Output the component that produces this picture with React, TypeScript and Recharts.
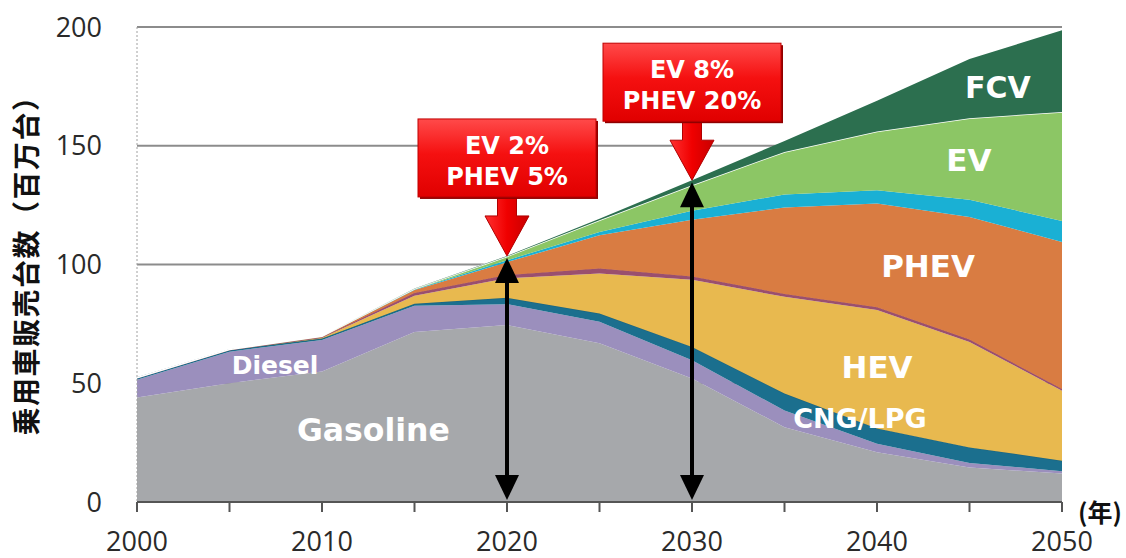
import React from 'react';
import { AreaChart, Area, XAxis, YAxis, CartesianGrid, ReferenceDot, ReferenceLine } from 'recharts';

const years = [2000, 2005, 2010, 2015, 2020, 2025, 2030, 2035, 2040, 2045, 2050];
const gasoline = [44, 50, 55, 71.6, 74.5, 66.8, 52, 31.5, 21, 14.5, 12];
const diesel = [7.5, 13.3, 13.2, 11, 8.8, 9.1, 7.7, 7, 3.5, 1.9, 1];
const cngLpg = [0.7, 0.7, 0.6, 0.9, 2.7, 3.5, 5.6, 7.2, 6.5, 6.6, 4.4];
const hev = [0, 0, 0.4, 3.3, 8.2, 16.8, 28.3, 40.7, 49.8, 44.4, 29.4];
const hevDiesel = [0, 0, 0.2, 1.2, 1.4, 2.1, 1.4, 1.2, 1.2, 1, 0.8];
const phev = [0, 0, 0.2, 1.3, 5.4, 14, 23.8, 36.4, 43.7, 51.6, 61.9];
const phevDiesel = [0, 0, 0, 0.2, 0.8, 1.4, 3.8, 5.5, 5.6, 7.3, 8.8];
const ev = [0.1, 0.2, 0.2, 0.3, 1.6, 4.9, 10.8, 17.9, 24.7, 34.3, 45.9];
const fcv = [0, 0, 0, 0.1, 0.2, 0.7, 2.1, 4.6, 13, 24.9, 34.4];

const xTicks = [2000, 2005, 2010, 2015, 2020, 2025, 2030, 2035, 2040, 2045, 2050];
const xTickLabels = ['2000', '', '2010', '', '2020', '', '2030', '', '2040', '', '2050'];
const yTicks = [0, 50, 100, 150, 200];

const callouts = [
  { year: 2020, lines: ['EV 2%', 'PHEV 5%'] },
  { year: 2030, lines: ['EV 8%', 'PHEV 20%'] },
];

const data = years.map((year, i) => ({
  year,
  gasoline: gasoline[i],
  diesel: diesel[i],
  cngLpg: cngLpg[i],
  hev: hev[i],
  hevDiesel: hevDiesel[i],
  phev: phev[i],
  phevDiesel: phevDiesel[i],
  ev: ev[i],
  fcv: fcv[i],
}));

const totalAt = (year: number) => {
  const d: any = data.find((r) => r.year === year);
  return d.gasoline + d.diesel + d.cngLpg + d.hev + d.hevDiesel + d.phev + d.phevDiesel + d.ev + d.fcv;
};

// label placements (layout, in chart coordinates)
const areaLabels = [
  { text: 'Diesel', x: 2007.46, y: 57.6, size: 25 },
  { text: 'Gasoline', x: 2012.78, y: 30.3, size: 31.5 },
  { text: 'CNG/LPG', x: 2039.08, y: 35.3, size: 27 },
  { text: 'HEV', x: 2040, y: 56.8, size: 31 },
  { text: 'PHEV', x: 2042.76, y: 99.3, size: 31 },
  { text: 'EV', x: 2044.97, y: 143.9, size: 31 },
  { text: 'FCV', x: 2046.54, y: 174.6, size: 30 },
];

const LATIN = '"Open Sans", "DejaVu Sans", sans-serif';
const WIDE = '"DejaVu Sans", "Open Sans", sans-serif';
const CJK = '"Noto Sans CJK JP", "Noto Sans", sans-serif';

const Callout = (props: any) => {
  const { cx, cy, lines, idx } = props;
  const bw = 178;
  const bh = 78;
  const left = cx - 89;
  const top = cy - 137;
  const shaftW = 19;
  const headW = 44;
  const headH = 40;
  const boxBottom = top + bh;
  const path = `M${cx - shaftW / 2},${boxBottom - 2} L${cx + shaftW / 2},${boxBottom - 2} L${cx + shaftW / 2},${cy - headH} L${cx + headW / 2},${cy - headH} L${cx},${cy} L${cx - headW / 2},${cy - headH} L${cx - shaftW / 2},${cy - headH} Z`;
  const gid = `redBox${idx}`;
  const gid2 = `redArrow${idx}`;
  return (
    <g>
      <defs>
        <linearGradient id={gid} x1="0" y1="0" x2="0" y2="1">
          <stop offset="0%" stopColor="#ff4a4a" />
          <stop offset="45%" stopColor="#f51010" />
          <stop offset="100%" stopColor="#e00000" />
        </linearGradient>
        <linearGradient id={gid2} x1="0" y1="0" x2="1" y2="0">
          <stop offset="0%" stopColor="#ff3030" />
          <stop offset="50%" stopColor="#f00000" />
          <stop offset="100%" stopColor="#c80000" />
        </linearGradient>
      </defs>
      <path d={path} fill={`url(#${gid2})`} stroke="#b00000" strokeWidth={1} />
      <rect x={left + 2} y={top + 2} width={bw} height={bh} fill="#900000" />
      <rect x={left} y={top} width={bw} height={bh} fill={`url(#${gid})`} stroke="#c00000" strokeWidth={1} />
      <text
        x={cx}
        y={top + 35}
        textAnchor="middle"
        fill="#ffffff"
        fontFamily={WIDE}
        fontWeight={700}
        fontSize={24}
      >
        <tspan x={cx} y={top + 35}>{lines[0]}</tspan>
        <tspan x={cx} y={top + 66}>{lines[1]}</tspan>
      </text>
    </g>
  );
};

const DoubleArrow = (props: any) => {
  const { x1, y1, x2, y2 } = props;
  const x = x1;
  const yTop = Math.min(y1, y2) + 2;
  const yBot = Math.max(y1, y2) - 2;
  const hw = 12;
  const hh = 25;
  return (
    <g>
      <line x1={x} y1={yTop + hh - 2} x2={x} y2={yBot - hh + 2} stroke="#000" strokeWidth={4} />
      <path d={`M${x},${yTop} L${x + hw},${yTop + hh} L${x - hw},${yTop + hh} Z`} fill="#000" />
      <path d={`M${x},${yBot} L${x + hw},${yBot - hh} L${x - hw},${yBot - hh} Z`} fill="#000" />
    </g>
  );
};

const AreaText = (props: any) => {
  const { cx, cy, text, size } = props;
  return (
    <text
      x={cx}
      y={cy}
      textAnchor="middle"
      dominantBaseline="central"
      fill="#ffffff"
      fontFamily={WIDE}
      fontWeight={700}
      fontSize={size}
    >
      {text}
    </text>
  );
};

export default function App() {
  return (
    <div style={{ position: 'absolute', left: 0, top: 0, width: 1126, height: 558, background: '#ffffff' }}>
      <AreaChart
        width={1126}
        height={558}
        data={data}
        margin={{ top: 27, right: 64, bottom: 16, left: 37 }}
      >
        <CartesianGrid vertical={false} stroke="#8c8c8c" strokeWidth={2} />
        <XAxis
          dataKey="year"
          type="number"
          domain={[2000, 2050]}
          ticks={xTicks}
          interval={0}
          height={40}
          tickSize={10}
          tickMargin={20}
          tickFormatter={(v: number) => xTickLabels[xTicks.indexOf(v)] ?? ''}
          axisLine={{ stroke: '#555555', strokeWidth: 2 }}
          tickLine={{ stroke: '#555555', strokeWidth: 2 }}
          tick={{ fontSize: 27, fill: '#2a2a2a', fontFamily: LATIN }}
          label={{
            content: (p: any) => (
              <text
                x={p.viewBox.x + p.viewBox.width + 38}
                y={p.viewBox.y + 9}
                textAnchor="middle"
                dominantBaseline="central"
                fontFamily={CJK}
                fontWeight={700}
                fontSize={25}
                fill="#111"
              >
                (年)
              </text>
            ),
          }}
        />
        <YAxis
          type="number"
          domain={[0, 200]}
          ticks={yTicks}
          interval={0}
          width={100}
          tickLine={false}
          tickSize={6}
          tickMargin={29}
          axisLine={{ stroke: '#a0a0a0', strokeWidth: 1, strokeDasharray: '2 2' }}
          tick={{ fontSize: 27, fill: '#2a2a2a', fontFamily: LATIN }}
          label={{
            content: (p: any) => {
              const cx = p.viewBox.x - 12;
              const cy = p.viewBox.y + p.viewBox.height / 2 - 6;
              return (
                <text
                  x={cx}
                  y={cy}
                  transform={`rotate(-90, ${cx}, ${cy})`}
                  textAnchor="middle"
                  dominantBaseline="central"
                  fontFamily={CJK}
                  fontWeight={700}
                  fontSize={28}
                  letterSpacing={1.5}
                  fill="#111"
                >
                  乗用車販売台数（百万台）
                </text>
              );
            },
          }}
        />
        <Area type="linear" dataKey="gasoline" stackId="1" stroke="none" fill="#a6a8ab" fillOpacity={1} isAnimationActive={false} />
        <Area type="linear" dataKey="diesel" stackId="1" stroke="none" fill="#9b8fbd" fillOpacity={1} isAnimationActive={false} />
        <Area type="linear" dataKey="cngLpg" stackId="1" stroke="#1d6680" strokeWidth={1.5} fill="#1b6f8e" fillOpacity={1} isAnimationActive={false} />
        <Area type="linear" dataKey="hev" stackId="1" stroke="none" fill="#e8b94f" fillOpacity={1} isAnimationActive={false} />
        <Area type="linear" dataKey="hevDiesel" stackId="1" stroke="#9a4f6e" strokeWidth={1} fill="#9a4f6e" fillOpacity={1} isAnimationActive={false} />
        <Area type="linear" dataKey="phev" stackId="1" stroke="none" fill="#d97c42" fillOpacity={1} isAnimationActive={false} />
        <Area type="linear" dataKey="phevDiesel" stackId="1" stroke="none" fill="#1ab0d4" fillOpacity={1} isAnimationActive={false} />
        <Area type="linear" dataKey="ev" stackId="1" stroke="#ffffff" strokeWidth={1.5} fill="#8cc665" fillOpacity={1} isAnimationActive={false} />
        <Area type="linear" dataKey="fcv" stackId="1" stroke="none" fill="#2c6f4f" fillOpacity={1} isAnimationActive={false} />
        {areaLabels.map((l) => (
          <ReferenceDot
            key={l.text}
            x={l.x}
            y={l.y}
            r={0}
            shape={(p: any) => <AreaText cx={p.cx} cy={p.cy} text={l.text} size={l.size} />}
          />
        ))}
        {callouts.map((c) => (
          <ReferenceLine
            key={`arr${c.year}`}
            segment={[
              { x: c.year, y: 0 },
              { x: c.year, y: totalAt(c.year) },
            ]}
            shape={(p: any) => <DoubleArrow {...p} />}
          />
        ))}
        {callouts.map((c, i) => (
          <ReferenceDot
            key={`co${c.year}`}
            x={c.year}
            y={totalAt(c.year)}
            r={0}
            shape={(p: any) => <Callout cx={p.cx} cy={p.cy} lines={c.lines} idx={i} />}
          />
        ))}
      </AreaChart>
    </div>
  );
}
